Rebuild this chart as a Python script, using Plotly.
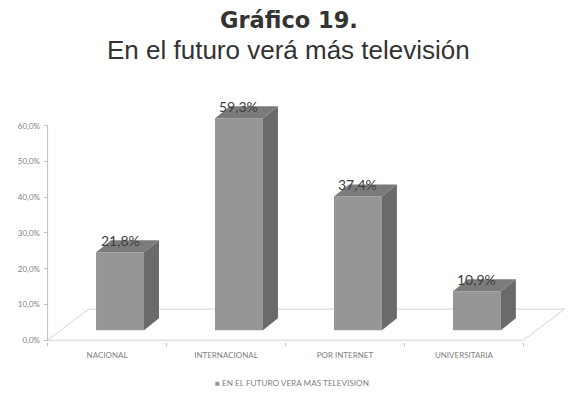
import plotly.graph_objects as go

# ---- data ----
categories = ["NACIONAL", "INTERNACIONAL", "POR INTERNET", "UNIVERSITARIA"]
values = [21.8, 59.3, 37.4, 10.9]
series_name = "EN EL FUTURO VERA MAS TELEVISION"
y_ticks = [0, 10, 20, 30, 40, 50, 60]
y_ticktext = [f"{t:.1f}%".replace(".", ",") for t in y_ticks]
title_main = "Gráfico 19."
title_sub = "En el futuro verá más televisión"

# ---- style / 3D geometry (in axis units) ----
FRONT = "#969696"
TOP = "#7b7b7b"
SIDE = "#6a6a6a"
FLOOR = "#d3d3d3"
AXIS = "#bfbfbf"
TXT = "#7f7f7f"
BASE = 2.8        # front face bottom (perspective offset)
SHIFT = 0.109     # front face shift to the right
BAR_W = 0.403
DX, DY = 0.126, 3.35      # bar depth
FDX, FDY = 0.345, 8.7     # floor depth

fig = go.Figure()
n = len(categories)

# floor (below traces)
fx = [-0.5, n - 0.5, n - 0.5 + FDX, -0.5 + FDX]
fy = [0, 0, FDY, FDY]
path = "M " + " L ".join(f"{a},{b}" for a, b in zip(fx, fy)) + " Z"
fig.add_shape(type="path", path=path, xref="x", yref="y", layer="below",
              line=dict(color=FLOOR, width=1), fillcolor="rgba(0,0,0,0)")

# y axis line
fig.add_trace(go.Scatter(x=[-0.5, -0.5], y=[0, y_ticks[-1]], mode="lines",
                         line=dict(color=AXIS, width=1), hoverinfo="skip", showlegend=False))

# front faces
fig.add_trace(go.Bar(x=list(range(n)), y=values, base=BASE, width=BAR_W,
                     offset=SHIFT - BAR_W / 2, marker=dict(color=FRONT, line=dict(width=0)),
                     name=series_name, showlegend=False))

# side and top faces
for i, v in enumerate(values):
    xl = i + SHIFT - BAR_W / 2
    xr = i + SHIFT + BAR_W / 2
    top = BASE + v
    fig.add_trace(go.Scatter(
        x=[xr, xr + DX, xr + DX, xr, xr],
        y=[BASE, BASE + DY, top + DY, top, BASE],
        mode="lines", fill="toself", fillcolor=SIDE, line=dict(width=0, color=SIDE),
        hoverinfo="skip", showlegend=False))
    fig.add_trace(go.Scatter(
        x=[xl, xr, xr + DX, xl + DX, xl],
        y=[top, top, top + DY, top + DY, top],
        mode="lines", fill="toself", fillcolor=TOP, line=dict(width=0, color=TOP),
        hoverinfo="skip", showlegend=False))
    fig.add_annotation(x=i + SHIFT, y=top + DY, text=f"{v:.1f}%".replace(".", ","),
                       showarrow=False, yanchor="middle", xanchor="center",
                       font=dict(family="Lato", size=14, color="#404040"))

# titles
fig.add_annotation(xref="paper", yref="paper", x=0.464, y=1.276, text=f"<b>{title_main}</b>",
                   showarrow=False, yanchor="middle", borderpad=0,
                   font=dict(family="DejaVu Sans", size=22.5, color="#333333"))
fig.add_annotation(xref="paper", yref="paper", x=0.464, y=1.159, text=title_sub,
                   showarrow=False, yanchor="middle", borderpad=0,
                   font=dict(family="Liberation Sans", size=26, color="#333333"))
# legend
fig.add_annotation(xref="paper", yref="paper", x=0.47, y=-0.163,
                   text=f"<span style='color:{FRONT}'>■</span> {series_name}",
                   showarrow=False, yanchor="middle",
                   font=dict(family="Lato", size=8.2, color=TXT))

fig.update_layout(
    width=567, height=390,
    margin=dict(l=36, r=4, t=82, b=56),
    plot_bgcolor="white", paper_bgcolor="white",
    showlegend=False,
    xaxis=dict(range=[-0.53, 3.9], tickmode="array", tickvals=list(range(n)),
               ticktext=categories, ticks="", showgrid=False, zeroline=False,
               showline=False, automargin=False, ticklabelstandoff=7,
               tickfont=dict(family="Lato", size=8, color=TXT),
               minor=dict(tickmode="array", tickvals=[i - 0.5 for i in range(n + 1)],
                          ticks="outside", ticklen=3, tickcolor=AXIS, showgrid=False)),
    yaxis=dict(range=[-0.5, 70], tickmode="array", tickvals=y_ticks, ticktext=y_ticktext,
               ticks="inside", ticklen=4, tickcolor=AXIS, automargin=False,
               ticklabelstandoff=3,
               showgrid=False, zeroline=False, showline=False,
               tickfont=dict(family="Lato", size=8, color=TXT)),
)

fig.write_html("out.html")
